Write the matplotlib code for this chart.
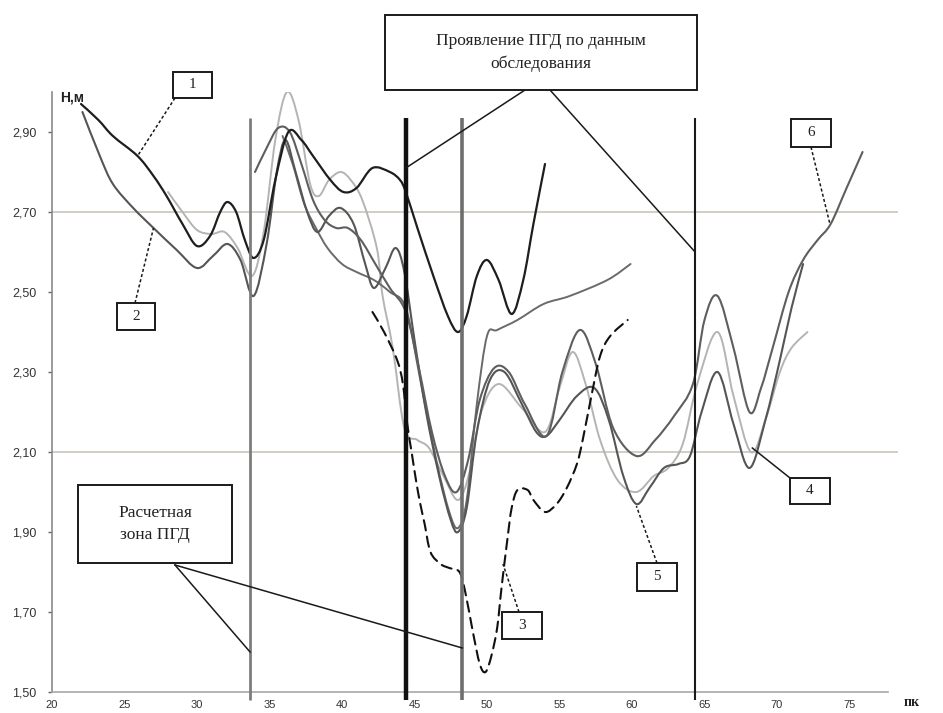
import numpy as np
import matplotlib
matplotlib.use("Agg")
import matplotlib.pyplot as plt
from matplotlib.path import Path
from matplotlib.patches import PathPatch, Rectangle
from matplotlib.lines import Line2D

# ---------------- data ----------------
x_ticks = [20, 25, 30, 35, 40, 45, 50, 55, 60, 65, 70, 75]
y_ticks = [1.50, 1.70, 1.90, 2.10, 2.30, 2.50, 2.70, 2.90]
grid_levels = [2.10, 2.70]
zone_lines = [33.66, 44.4, 48.3, 64.35]

c1_x = [22.0, 23.2, 24.2, 25.9, 27.0, 27.9, 29.0, 30.0, 30.9, 31.6, 32.1, 32.7, 33.3, 33.9, 34.6, 35.4, 36.3,
        37.2, 38.0, 39.2, 40.1, 41.0, 42.1, 43.3, 44.0, 44.4, 45.2, 46.3, 47.3, 48.0, 48.6, 49.3, 50.0,
        50.8, 51.7, 52.5, 53.2, 54.0]
c1_y = [2.97, 2.93, 2.89, 2.84, 2.79, 2.74, 2.67, 2.615, 2.64, 2.70, 2.725, 2.70, 2.63, 2.585, 2.63, 2.78, 2.90,
        2.88, 2.84, 2.78, 2.75, 2.76, 2.81, 2.80, 2.78, 2.75, 2.66, 2.54, 2.44, 2.40, 2.44, 2.54, 2.58,
        2.53, 2.445, 2.53, 2.67, 2.82]

c2_x = [22.1, 23.3, 24.2, 25.6, 27.0, 28.6, 30.0, 31.1, 32.1, 33.0, 33.9, 34.8, 35.5, 36.1, 36.8, 37.6, 38.3,
        39.1, 39.9, 40.8, 41.6, 42.2, 43.0, 43.7, 44.3, 45.0, 45.8, 46.7, 47.5, 48.0, 48.6, 49.3, 50.2,
        51.2, 52.4, 53.4, 54.1, 55.0, 56.2, 57.4, 58.4, 59.4, 60.3, 61.2, 62.2, 63.2, 64.0, 64.8, 65.9,
        67.0, 68.1, 69.2, 70.2, 71.0, 71.8]
c2_y = [2.95, 2.84, 2.77, 2.71, 2.66, 2.605, 2.56, 2.59, 2.62, 2.58, 2.49, 2.62, 2.80, 2.88, 2.80, 2.70, 2.65,
        2.69, 2.71, 2.67, 2.57, 2.51, 2.56, 2.61, 2.55, 2.38, 2.20, 2.04, 1.93, 1.90, 1.96, 2.15, 2.28,
        2.30, 2.22, 2.15, 2.14, 2.18, 2.24, 2.26, 2.18, 2.04, 1.97, 2.01, 2.06, 2.07, 2.09, 2.20, 2.30,
        2.17, 2.06, 2.18, 2.33, 2.46, 2.57]

c4_x = [28.0, 29.0, 30.0, 31.0, 31.9, 32.8, 33.8, 34.6, 35.4, 36.2, 37.0, 37.8, 38.4, 39.1, 39.9, 40.6,
        41.4, 42.4, 42.8, 43.5, 44.3, 45.2, 46.0, 47.0, 48.0, 48.8, 49.6, 50.8, 52.4, 54.0, 55.0, 55.9,
        56.8, 57.8, 59.0, 60.3, 61.5, 62.5, 63.5, 64.5, 65.9, 67.0, 68.2, 69.2, 70.2, 71.0, 72.1]
c4_y = [2.75, 2.70, 2.655, 2.645, 2.65, 2.61, 2.54, 2.65, 2.88, 3.00, 2.93, 2.77, 2.74, 2.78, 2.80, 2.78,
        2.73, 2.61, 2.49, 2.36, 2.16, 2.13, 2.11, 2.04, 1.98, 2.05, 2.20, 2.27, 2.21, 2.15, 2.26, 2.35,
        2.27, 2.13, 2.03, 2.00, 2.04, 2.06, 2.12, 2.27, 2.40, 2.24, 2.10, 2.18, 2.30, 2.36, 2.40]

c6_x = [34.0, 34.8, 35.6, 36.4, 37.2, 38.0, 38.8, 39.6, 40.4, 41.3, 42.3, 43.3, 44.4, 45.3, 46.2, 47.1,
        47.9, 48.7, 49.5, 50.5, 51.5, 52.6, 54.1, 55.2, 56.4, 57.5, 58.7, 60.3, 61.6, 62.9, 64.2, 65.0,
        65.9, 67.0, 68.1, 68.9, 69.7, 70.8, 71.8, 72.8, 73.7, 74.8, 75.9]
c6_y = [2.80, 2.86, 2.91, 2.90, 2.82, 2.73, 2.68, 2.66, 2.66, 2.63, 2.57, 2.51, 2.45, 2.31, 2.15, 2.04,
        2.00, 2.08, 2.23, 2.31, 2.30, 2.22, 2.14, 2.30, 2.405, 2.32, 2.16, 2.09, 2.13, 2.19, 2.27, 2.43,
        2.49, 2.36, 2.20, 2.26, 2.36, 2.50, 2.58, 2.63, 2.67, 2.76, 2.85]

c5_x = [35.9, 36.6, 37.4, 38.2, 39.0, 40.0, 41.0, 42.2, 43.3, 44.4, 45.4, 46.5, 47.4, 48.0, 48.6, 49.3,
        50.0, 50.7, 52.1, 53.9, 55.7, 58.3, 59.9]
c5_y = [2.89, 2.82, 2.72, 2.66, 2.61, 2.57, 2.55, 2.53, 2.50, 2.46, 2.28, 2.08, 1.95, 1.91, 1.98, 2.22,
        2.39, 2.405, 2.43, 2.47, 2.49, 2.53, 2.57]

c3_x = [42.1, 42.9, 43.8, 44.2, 44.5, 44.8, 45.1, 45.4, 45.7, 46.1, 46.8, 47.4, 48.1, 48.5, 49.0, 49.5,
        49.9, 50.3, 50.7, 51.0, 51.4, 51.7, 52.1, 52.8, 53.2, 54.0, 54.8, 55.5, 56.2, 56.6, 57.2, 57.8,
        58.5, 59.7]
c3_y = [2.45, 2.40, 2.33, 2.27, 2.17, 2.10, 2.03, 1.97, 1.92, 1.85, 1.82, 1.81, 1.80, 1.75, 1.655, 1.57,
        1.55, 1.59, 1.66, 1.76, 1.88, 1.96, 2.005, 2.005, 1.98, 1.95, 1.97, 2.01, 2.07, 2.13, 2.24, 2.34,
        2.39, 2.43]

# ---------------- figure ----------------
W, H = 943, 713
fig = plt.figure(figsize=(W / 100, H / 100), dpi=100)
fig.patch.set_facecolor("white")
ax = fig.add_axes([52 / W, 21 / H, 846 / W, 600 / H])
ax.set_xlim(20, 20 + 846 / 14.5)
ax.set_ylim(1.5, 3.0)
ax.patch.set_alpha(0)

for s in ["top", "right"]:
    ax.spines[s].set_visible(False)
ax.spines["left"].set_color("#8a8a8a")
ax.spines["left"].set_linewidth(1.2)
ax.spines["left"].set_bounds(1.5, 3.0)
ax.spines["bottom"].set_color("#a8a8a8")
ax.spines["bottom"].set_linewidth(1.2)
ax.spines["bottom"].set_bounds(20, 77.65)

ax.set_yticks(y_ticks)
ax.set_yticklabels([f"{v:.2f}".replace(".", ",") for v in y_ticks],
                   fontfamily="Liberation Sans", fontsize=9, color="#333333")
ax.tick_params(axis="y", length=3, width=1, color="#666666", pad=8)
ax.set_xticks(x_ticks)
ax.set_xticklabels([str(v) for v in x_ticks], fontfamily="Liberation Sans",
                   fontsize=8, color="#333333")
ax.tick_params(axis="x", which="major", length=0, pad=6)
ax.set_xticks([35, 50, 65], minor=True)
ax.tick_params(axis="x", which="minor", length=6, width=1, direction="inout", color="#444444")

for g in grid_levels:
    ax.axhline(g, color="#cbc5be", lw=1.2, zorder=1)

MOVETO, CURVE4 = Path.MOVETO, Path.CURVE4


def smooth(xs, ys):
    pts = np.column_stack([xs, ys]).astype(float)
    verts = [pts[0]]
    codes = [MOVETO]
    n = len(pts)
    for i in range(n - 1):
        p0 = pts[i - 1] if i > 0 else pts[i]
        p1 = pts[i]
        p2 = pts[i + 1]
        p3 = pts[i + 2] if i + 2 < n else pts[i + 1]
        verts += [p1 + (p2 - p0) / 6.0, p2 - (p3 - p1) / 6.0, p2]
        codes += [CURVE4] * 3
    return Path(verts, codes)


def draw(xs, ys, color, lw, ls="-", z=2):
    ax.add_patch(PathPatch(smooth(xs, ys), fill=False, edgecolor=color, lw=lw,
                           linestyle=ls, zorder=z, capstyle="round", joinstyle="round"))


draw(c4_x, c4_y, "#b4b4b4", 1.4)
draw(c5_x, c5_y, "#6a6a6a", 1.4)
draw(c2_x, c2_y, "#555555", 1.5)
draw(c6_x, c6_y, "#5e5e5e", 1.5)
draw(c1_x, c1_y, "#1e1e1e", 1.6)
draw(c3_x, c3_y, "#111111", 1.5, ls=(0, (5, 3)))

zone_styles = [("#7d7d7d", 2.0), ("#111111", 3.2), ("#6e6e6e", 2.6), ("#1a1a1a", 1.5)]
for xv, (col, lw) in zip(zone_lines, zone_styles):
    ax.plot([xv, xv], [1.48, 2.935], color=col, lw=lw, zorder=3, clip_on=False,
            solid_capstyle="butt")

# ---------------- annotations ----------------
def fx(px):
    return px / W


def fy(py):
    return 1 - py / H


def d2f(x, y):
    p = ax.transData.transform((x, y))
    return fig.transFigure.inverted().transform(p)


def box(x0, y0, x1, y1, text, fs, family="Liberation Serif", ls=1.3):
    fig.add_artist(Rectangle((fx(x0), fy(y1)), (x1 - x0) / W, (y1 - y0) / H,
                             transform=fig.transFigure, facecolor="white",
                             edgecolor="#1a1a1a", lw=1.4, zorder=6))
    fig.text(fx((x0 + x1) / 2), fy((y0 + y1) / 2), text, ha="center", va="center",
             fontsize=fs, family=family, color="#222222", linespacing=ls, zorder=7)


def leader(px, py, xd, yd, ls="-", lw=1.1):
    tx, ty = d2f(xd, yd)
    fig.add_artist(Line2D([fx(px), tx], [fy(py), ty], transform=fig.transFigure,
                          color="#1a1a1a", lw=lw, linestyle=ls, zorder=5))


leader(525, 90, 44.4, 2.81)
leader(550, 90, 64.35, 2.60)
box(385, 15, 697, 90, "Проявление ПГД по данным\nобследования", 12.5, ls=1.45)

leader(175, 565, 33.66, 1.60)
leader(175, 565, 48.3, 1.61)
box(78, 485, 232, 563, "Расчетная\nзона ПГД", 12.5, ls=1.45)

leader(175, 98, 25.9, 2.84, ls=(0, (2, 1.5)))
box(173, 72, 212, 98, "1", 11)
leader(135, 303, 27.0, 2.66, ls=(0, (2, 1.5)))
box(117, 303, 155, 330, "2", 11)
leader(519, 612, 51.1, 1.82, ls=(0, (2, 1.5)))
box(502, 612, 542, 639, "3", 11)
leader(790, 478, 68.3, 2.11)
box(790, 478, 830, 504, "4", 11)
leader(657, 563, 60.3, 1.965, ls=(0, (2, 1.5)))
box(637, 563, 677, 591, "5", 11)
leader(811, 147, 73.65, 2.67, ls=(0, (2, 1.5)))
box(791, 119, 831, 147, "6", 11)

fig.text(fx(60), fy(98), "Н,м", ha="left", va="center", fontsize=10,
         family="Liberation Sans", fontweight="bold", color="#222222")
fig.text(fx(904), fy(702), "пк", ha="left", va="center", fontsize=10,
         family="Liberation Serif", fontweight="bold", color="#222222")

fig.savefig("out.png", dpi=100, facecolor="white")
